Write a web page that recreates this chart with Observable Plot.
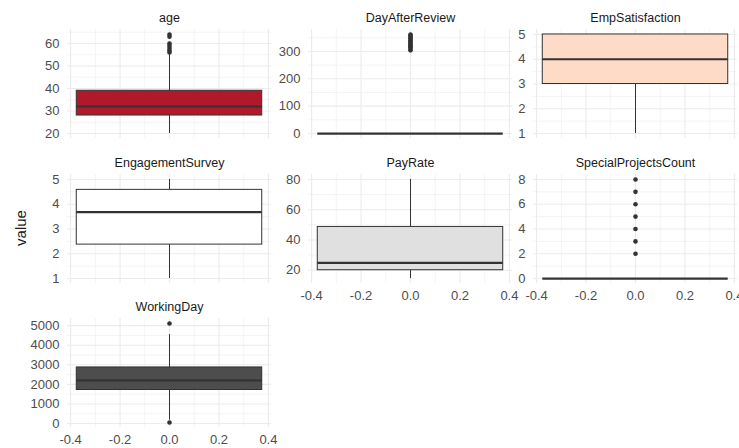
<!DOCTYPE html>
<html>
<head>
<meta charset="utf-8">
<script src="https://cdn.jsdelivr.net/npm/d3@7"></script>
<script src="https://cdn.jsdelivr.net/npm/@observablehq/plot@0.6"></script>
<style>
  body { margin: 0; background: #fff; }
  #chart { position: relative; width: 739px; height: 448px; overflow: hidden; background: #fff;
           font-family: "Liberation Sans", Arial, sans-serif; }
  .cell { position: absolute; }
  #ylab { position: absolute; left: 20px; top: 228px; transform: translate(-50%, -50%) rotate(-90deg);
          font-size: 15px; color: #1a1a1a; white-space: nowrap; }
</style>
</head>
<body>
<div id="chart"><div id="ylab">value</div></div>
<script>
// ---- data ----
const variables = ["age", "DayAfterReview", "EmpSatisfaction", "EngagementSurvey", "PayRate", "SpecialProjectsCount", "WorkingDay"];
const fillColors = ["#B2182B", "#EF8A62", "#FDDBC7", "#FFFFFF", "#E0E0E0", "#999999", "#4D4D4D"];
const whiskerLow  = [20, 0, 1, 1, 14.5, 0, 170];
const quartile1   = [28, 0, 3, 2.37, 20, 0, 1712];
const medians     = [32, 0, 4, 3.68, 24.8, 0, 2203];
const quartile3   = [39, 0, 5, 4.58, 48.6, 0, 2864];
const whiskerHigh = [55, 0, 5, 5, 80, 0, 4540];
const outliers = [
  [56, 57, 58, 59, 60, 63, 64],
  [304, 309, 314, 318, 323, 327, 331, 336, 340, 345, 349, 353, 358, 362],
  [],
  [],
  [],
  [2, 3, 4, 5, 6, 7, 8],
  [5110, 50]
];
const yTicks = [
  [20, 30, 40, 50, 60],
  [0, 100, 200, 300],
  [1, 2, 3, 4, 5],
  [1, 2, 3, 4, 5],
  [20, 40, 60, 80],
  [0, 2, 4, 6, 8],
  [0, 1000, 2000, 3000, 4000, 5000]
];
const xTicks = [-0.4, -0.2, 0, 0.2, 0.4];

// ---- layout ----
const BOX_HALF = 0.375;
const XDOM = [-0.4125, 0.4125];
const colLeft = [67, 308, 533];
const rowTop = [29, 174, 318];
const panelW = 204, panelH = 109;
const mL = 60, mR = 6, mT = 24, mB = 24;
const FONT = '"Liberation Sans", Arial, sans-serif';

function minorOf(ticks, dom) {
  const step = ticks[1] - ticks[0];
  const m = [];
  for (let k = -1; k < ticks.length; k++) {
    const v = (k < 0 ? ticks[0] - step : ticks[k]) + step / 2;
    if (v >= dom[0] && v <= dom[1]) m.push(v);
  }
  return m;
}

const chart = document.getElementById("chart");

variables.forEach((name, i) => {
  const col = i % 3, row = Math.floor(i / 3);
  const showX = i >= 4;
  const all = [whiskerLow[i], whiskerHigh[i], ...outliers[i]];
  const lo = Math.min(...all), hi = Math.max(...all);
  const pad = (hi - lo) * 0.05;
  const ydom = [lo - pad, hi + pad];
  const box = [{x: 0, xl: -BOX_HALF, xr: BOX_HALF, lo: whiskerLow[i], q1: quartile1[i], med: medians[i], q3: quartile3[i], hi: whiskerHigh[i]}];
  const pts = outliers[i].map(v => ({x: 0, y: v}));

  const marks = [
    Plot.ruleX(minorOf(xTicks, XDOM), {stroke: "#ececec", strokeWidth: 0.6}),
    Plot.ruleY(minorOf(yTicks[i], ydom), {stroke: "#ececec", strokeWidth: 0.6}),
    Plot.ruleX(xTicks, {stroke: "#ebebeb", strokeWidth: 1.1}),
    Plot.ruleY(yTicks[i], {stroke: "#ebebeb", strokeWidth: 1.1}),
    Plot.axisY(yTicks[i], {tickSize: 0, tickPadding: 8, tickFormat: d => String(d), fontSize: 13}),
    Plot.ruleX(box, {x: "x", y1: "lo", y2: "q1", stroke: "#333333", strokeWidth: 1}),
    Plot.ruleX(box, {x: "x", y1: "q3", y2: "hi", stroke: "#333333", strokeWidth: 1}),
    Plot.rect(box, {x1: "xl", x2: "xr", y1: "q1", y2: "q3", fill: fillColors[i], stroke: "#333333", strokeWidth: 1}),
    Plot.ruleY(box, {y: "med", x1: "xl", x2: "xr", stroke: "#333333", strokeWidth: 2.2}),
    Plot.dot(pts, {x: "x", y: "y", r: 2.3, fill: "#333333", stroke: null}),
    Plot.text([name], {text: d => d, frameAnchor: "top", dy: -11.5, lineAnchor: "middle", fontSize: 12.5, fill: "#1a1a1a"})
  ];
  if (showX) {
    marks.push(Plot.axisX(xTicks, {tickSize: 0, tickPadding: 7, tickFormat: d => d.toFixed(1), fontSize: 13}));
  }

  const svg = Plot.plot({
    width: panelW + mL + mR,
    height: panelH + mT + mB,
    marginLeft: mL, marginRight: mR, marginTop: mT, marginBottom: mB,
    style: {fontFamily: FONT, fontSize: "13px", color: "#4D4D4D", background: "transparent", overflow: "visible"},
    x: {domain: XDOM, axis: showX ? undefined : null},
    y: {domain: ydom},
    marks
  });
  const cell = document.createElement("div");
  cell.className = "cell";
  cell.style.left = (colLeft[col] - mL) + "px";
  cell.style.top = (rowTop[row] - mT) + "px";
  cell.style.width = (panelW + mL + mR) + "px";
  cell.appendChild(svg);
  chart.appendChild(cell);
});
</script>
</body>
</html>
